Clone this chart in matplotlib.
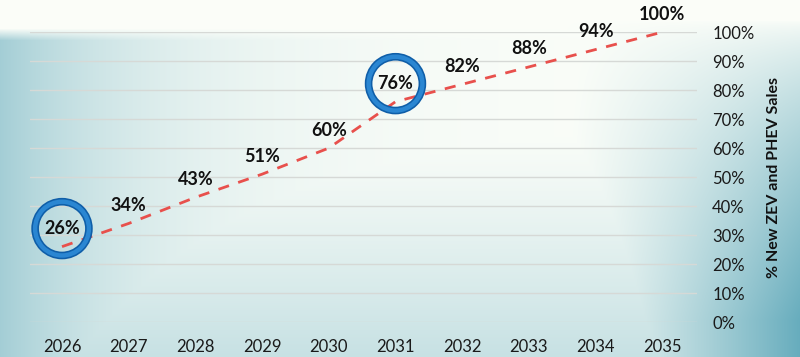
import numpy as np
import matplotlib
matplotlib.use("Agg")
from matplotlib import pyplot as plt
from matplotlib import transforms

plt.rcParams['font.family'] = ['Lato', 'DejaVu Sans']

years = [2026, 2027, 2028, 2029, 2030, 2031, 2032, 2033, 2034, 2035]
share = [26, 34, 43, 51, 60, 76, 82, 88, 94, 100]
circled = [2026, 2031]
yticks = [0, 10, 20, 30, 40, 50, 60, 70, 80, 90, 100]

fig = plt.figure(figsize=(8, 3.57), dpi=100)

# background: white top fading into teal at left and bottom right
H, W = 357, 800
yy, xx = np.mgrid[0:H, 0:W]
top = np.clip((yy - 28) / 12.0, 0, 1)
a_left = 0.50 * np.exp(-xx / 150.0) * top
a_bot = 0.30 * np.clip((yy - 120) / 237.0, 0, 1) ** 1.2
a_right = 0.85 * np.clip((xx - 560) / 240.0, 0, 1) ** 1.2 * np.clip((yy - 20) / 300.0, 0, 1) ** 0.7
a = np.clip(np.maximum(np.maximum(a_left, a_bot), a_right), 0, 1)[..., None]
white = np.array([0.985, 0.995, 0.975])
teal = np.array([0.30, 0.62, 0.70])
bg = white * (1 - a) + teal * a
bgax = fig.add_axes([0, 0, 1, 1])
bgax.imshow(bg, aspect='auto', extent=(0, 1, 0, 1))
bgax.axis('off')

ax = fig.add_axes([0.0375, 0.098, 0.8337, 0.812])
ax.patch.set_alpha(0)
ax.set_xlim(2025.52, 2035.52)
ax.set_ylim(0, 100)
for s in ax.spines.values():
    s.set_visible(False)

for t in yticks:
    ax.axhline(t, color='#d6d9d6', lw=1, zorder=1)

ax.plot(years, share, color='#e8504c', lw=2, dashes=(4, 3.5), zorder=3)

for x, v in zip(years, share):
    ax.annotate(f'{v}%', (x, v), xytext=(0, 13), textcoords='offset points',
                ha='center', va='center', fontsize=13, fontweight='bold',
                color='#111111', zorder=5, annotation_clip=False)

off = transforms.offset_copy(ax.transData, fig=fig, x=0, y=13, units='points')
cx = [x for x in years if x in circled]
cy = [v for x, v in zip(years, share) if x in circled]
ax.scatter(cx, cy, s=1500, facecolors='none', edgecolors='#0f5ea8', linewidths=5.5,
           transform=off, zorder=4, clip_on=False)
ax.scatter(cx, cy, s=1500, facecolors='none', edgecolors='#2a86d2', linewidths=3.2,
           transform=off, zorder=4, clip_on=False)

ax.set_xticks(years)
ax.set_xticklabels([str(y) for y in years], fontsize=12, color='#1a1a1a')
ax.set_yticks(yticks)
ax.set_yticklabels([f'{t}%' for t in yticks], fontsize=12, color='#1a1a1a')
ax.yaxis.tick_right()
ax.yaxis.set_label_position('right')
ax.tick_params(axis='both', length=0)
ax.tick_params(axis='x', pad=12)
ax.tick_params(axis='y', pad=11)
ax.set_ylabel('% New ZEV and PHEV Sales', fontsize=11.5, fontweight='bold',
              color='#111111', labelpad=9)

fig.savefig('out.png', dpi=100)
